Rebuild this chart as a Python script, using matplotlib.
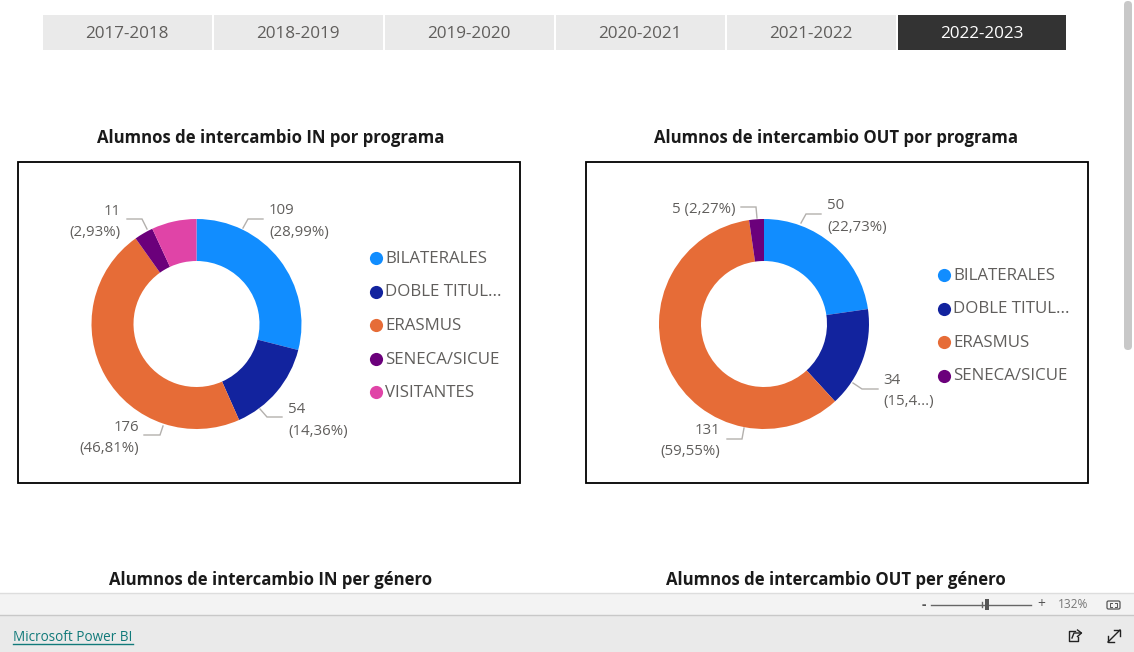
#!/usr/bin/env python
# Power BI report page: exchange students by programme, IN and OUT donuts
import matplotlib
matplotlib.use('Agg')

import matplotlib.pyplot as plt
from matplotlib.patches import Rectangle, FancyBboxPatch

plt.rcParams['font.family'] = ['Open Sans', 'DejaVu Sans']

W, H = 1134, 652

# --- data ---
years = ['2017-2018', '2018-2019', '2019-2020', '2020-2021', '2021-2022', '2022-2023']

programs_in = ['BILATERALES', 'DOBLE TITUL...', 'ERASMUS', 'SENECA/SICUE', 'VISITANTES']
values_in = [109, 54, 176, 11, 26]
labels_in = ['109\n(28,99%)', '54\n(14,36%)', '176\n(46,81%)', '11\n(2,93%)', None]

programs_out = ['BILATERALES', 'DOBLE TITUL...', 'ERASMUS', 'SENECA/SICUE']
values_out = [50, 34, 131, 5]
labels_out = ['50\n(22,73%)', '34\n(15,4...)', '131\n(59,55%)', '5 (2,27%)']

colors = ['#118DFF', '#12239E', '#E66C37', '#6B007B', '#E044A7']

title_in = 'Alumnos de intercambio IN por programa'
title_out = 'Alumnos de intercambio OUT por programa'
title_in2 = 'Alumnos de intercambio IN per género'
title_out2 = 'Alumnos de intercambio OUT per género'

text_grey = '#605E5C'

fig = plt.figure(figsize=(W / 100, H / 100), dpi=100, facecolor='white')

# page overlay in pixel coordinates
page = fig.add_axes([0, 0, 1, 1], zorder=0)
page.set_xlim(0, W)
page.set_ylim(H, 0)
page.axis('off')


def donut(cx, cy, r, values, cols):
    ax = fig.add_axes([(cx - r) / W, 1 - (cy + r) / H, 2 * r / W, 2 * r / H], zorder=2)
    ax.pie(values, colors=cols, startangle=90, counterclock=False, radius=1.0,
           wedgeprops=dict(width=0.4, linewidth=0))
    ax.set_xlim(-1, 1)
    ax.set_ylim(-1, 1)
    ax.set_aspect('equal')
    ax.axis('off')


def leader(points, text, tx, ty, ha='left'):
    xs, ys = zip(*points)
    page.plot(xs, ys, color='#B3B0AD', lw=1, solid_joinstyle='miter', zorder=3)
    page.text(tx, ty, text, color=text_grey, fontsize=10.8, ha=ha, va='center',
              linespacing=1.58, zorder=3)


def legend(x, y0, names, cols):
    for i, name in enumerate(names):
        y = y0 + i * 33.6
        page.scatter([x], [y], s=90, color=cols[i], linewidths=0, zorder=3)
        page.text(x + 9, y + 0.7, name, color=text_grey, fontsize=12.2, va='center', zorder=3)


# --- slicer buttons ---
btn_left = [43, 214, 385, 556, 727, 898]
for i, yr in enumerate(years):
    active = i == len(years) - 1
    page.add_patch(Rectangle((btn_left[i], 15), 168.5 if not active else 168, 34.5, lw=0,
                             fc='#333333' if active else '#EAEAEA'))
    page.text(btn_left[i] + 84, 34, yr, fontsize=12.3, ha='center', va='center',
              color='white' if active else text_grey)

# --- titles ---
for txt, x, y in [(title_in, 271, 138), (title_out, 836, 138),
                  (title_in2, 271, 580), (title_out2, 836, 580)]:
    page.text(x, y, txt, fontsize=12.05, fontweight='bold', ha='center', va='center',
              color='#1A1A1A')

# --- chart frames ---
for x0 in [17.5, 585.5]:
    page.add_patch(Rectangle((x0, 161.5), 502.5, 321.5, lw=1.3, ec='black', fc='none', zorder=1))

# --- IN donut ---
donut(196.5, 324, 105, values_in, colors)
leader([(243, 228), (248, 219), (263, 219)], labels_in[0], 269, 221.5)
leader([(260, 409), (267, 417), (282, 417)], labels_in[1], 288, 420.5)
leader([(163, 426), (160, 435), (144, 435)], labels_in[2], 139, 438, ha='right')
leader([(147, 229), (142, 219), (127, 219)], labels_in[3], 121, 222, ha='right')
legend(376, 258, programs_in, colors)

# --- OUT donut ---
donut(764, 324, 105, values_out, colors)
leader([(801, 223), (806, 214), (821, 214)], labels_out[0], 827, 216.5)
leader([(853, 383), (862, 389), (878, 389)], labels_out[1], 883, 391)
leader([(744, 428), (742, 439), (727, 439)], labels_out[2], 720, 441, ha='right')
leader([(757, 218), (756, 207), (741, 207)], labels_out[3], 735, 209.5, ha='right')
legend(944, 275, programs_out, colors)

# --- scrollbar ---
page.add_patch(FancyBboxPatch((1124, 1), 8, 349, boxstyle='round,pad=0,rounding_size=4',
                              lw=0, fc='#C8C8C8', zorder=1))

# --- footer bars ---
page.add_patch(Rectangle((0, 592.5), W, 22.5, lw=0, fc='#F3F3F3', zorder=4))
page.plot([0, W], [592.5, 592.5], color='#DDDDDD', lw=1, zorder=5)
page.add_patch(Rectangle((0, 615), W, 37, lw=0, fc='#EAEAEA', zorder=4))
page.plot([0, W], [615, 615], color='#C8C8C8', lw=1, zorder=5)

page.text(13, 637.5, 'Microsoft Power BI', fontsize=9.75, color='#117A7A', va='center', zorder=6)
page.plot([13, 133], [643.5, 643.5], color='#117A7A', lw=1, zorder=6)

# zoom control
page.text(924, 604.5, '-', fontsize=10, fontweight='bold', color='#555555', ha='center', va='center', zorder=6)
page.plot([931, 1031], [604.5, 604.5], color='#666666', lw=1, zorder=6)
page.plot([981.5, 981.5], [602, 607], color='#666666', lw=1, zorder=6)
page.add_patch(Rectangle((985, 599), 4, 11, lw=0, fc='#555555', zorder=6))
page.text(1041, 605, '+', fontsize=10, color='#555555', ha='center', va='center', zorder=6)
page.text(1073, 605, '132%', fontsize=8.6, color='#777777', ha='center', va='center', zorder=6)
page.add_patch(FancyBboxPatch((1107, 601), 13, 8, boxstyle='round,pad=0,rounding_size=1.5',
                              lw=0.9, ec='#555555', fc='none', zorder=6))
for bx, by, dx, dy in [(1110, 603, 2, 2), (1117, 603, -2, 2), (1110, 607, 2, -2), (1117, 607, -2, -2)]:
    page.plot([bx + dx, bx, bx], [by, by, by + dy], color='#555555', lw=0.7, zorder=6)

# share and expand icons
page.plot([1075, 1068.5, 1068.5, 1078, 1078], [631, 631, 640.5, 640.5, 637],
          color='#222222', lw=1, zorder=6)
page.plot([1072, 1074, 1081], [638, 633, 633], color='#222222', lw=1, zorder=6)
page.plot([1077.5, 1081.5, 1077.5], [630, 633, 636.5], color='#222222', lw=1, zorder=6)
page.plot([1108, 1120], [642, 630], color='#222222', lw=1, zorder=6)
page.plot([1114, 1120, 1120], [630, 630, 636], color='#222222', lw=1, zorder=6)
page.plot([1108, 1108, 1114], [636, 642, 642], color='#222222', lw=1, zorder=6)

plt.savefig('out.png', dpi=100)
